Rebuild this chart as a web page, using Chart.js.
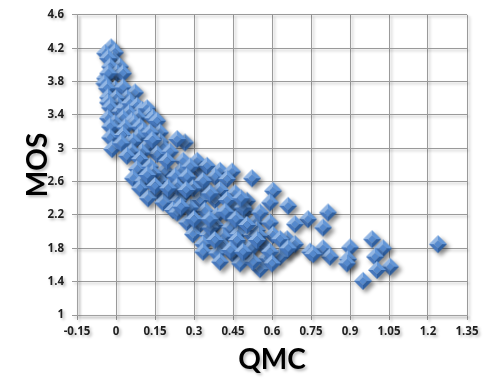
<!DOCTYPE html>
<html>
<head>
    <title>MOS vs QMC</title>
    <script src="https://cdn.jsdelivr.net/npm/chart.js"></script>
    <style>
        body { margin: 0; background: #fff; }
    </style>
</head>
<body>
    <canvas id="mosChart" width="487" height="378"></canvas>

    <script>
        // QMC (x) and MOS (y) values
        var qmc = [
            -0.019, -0.042, -0.004, -0.012, -0.031, 0.015, -0.023, 0.004, 0.027, -0.042,
            -0.030, -0.045, -0.004, -0.035, 0.027, 0.073, -0.031, 0.042, 0.000, 0.008,
            -0.031, -0.023, 0.015, 0.035, 0.054, 0.081, 0.100, 0.119, 0.131, 0.050,
            -0.031, 0.027, 0.085, 0.142, 0.158, 0.062, -0.005, 0.070, -0.004, -0.023,
            0.035, 0.092, 0.104, 0.169, -0.023, 0.027, 0.085, 0.131, 0.169, 0.265,
            0.235, -0.015, 0.046, 0.065, 0.119, 0.181, 0.020, 0.140, 0.158, 0.208,
            0.100, 0.060,
            0.042, 0.092, 0.258, 0.081, 0.131, 0.188, 0.246, 0.065, 0.104, 0.169,
            0.219, 0.273, 0.092, 0.158, 0.208, 0.258, 0.123, 0.181, 0.238, 0.219,
            0.196, 0.323, 0.142, 0.312, 0.350, 0.285, 0.400, 0.446, 0.523, 0.227,
            0.285, 0.335, 0.381, 0.427, 0.400, 0.458, 0.504, 0.323, 0.381, 0.446,
            0.496, 0.235, 0.292, 0.342, 0.388, 0.438, 0.273, 0.323, 0.381, 0.438,
            0.488, 0.535, 0.296, 0.354, 0.412, 0.469, 0.523, 0.335, 0.408, 0.477,
            0.527, 0.273, 0.335, 0.604, 0.592, 0.662, 0.235, 0.296, 0.362, 0.427,
            0.488, 0.554, 0.592, 0.285, 0.542, 0.604, 0.658, 0.362, 0.465, 0.565,
            0.658, 0.335, 0.388, 0.450, 0.504, 0.581, 0.631, 0.400, 0.477, 0.554,
            0.120, 0.150, 0.200, 0.270, 0.250, 0.300, 0.360, 0.420, 0.460, 0.380,
            0.440, 0.520, 0.550, 0.480,
            0.815, 0.738, 0.796, 0.504, 0.542, 0.631, 0.688, 0.746, 0.796, 0.823,
            0.900, 0.592, 0.600, 0.527, 0.488, 0.985, 1.027, 0.892, 0.996, 1.054,
            1.004, 0.950, 1.238, 0.758, 0.662, 0.888, 0.688
        ];
        var mos = [
            4.21, 4.14, 4.15, 4.06, 4.08, 3.98, 3.98, 3.90, 3.90, 3.84,
            3.90, 3.78, 3.71, 3.72, 3.73, 3.67, 3.61, 3.60, 3.60, 3.51,
            3.55, 3.49, 3.44, 3.48, 3.54, 3.51, 3.46, 3.48, 3.40, 3.42,
            3.36, 3.36, 3.37, 3.36, 3.33, 3.33, 3.30, 3.30, 3.22, 3.26,
            3.25, 3.26, 3.20, 3.19, 3.13, 3.16, 3.13, 3.19, 3.08, 3.07,
            3.11, 2.99, 3.05, 3.08, 3.02, 3.01, 3.06, 3.10, 2.93, 2.96,
            2.95, 2.96,
            2.91, 2.87, 2.85, 2.75, 2.78, 2.73, 2.72, 2.64, 2.61, 2.61,
            2.58, 2.61, 2.52, 2.49, 2.46, 2.44, 2.40, 2.35, 2.37, 2.26,
            2.85, 2.73, 2.70, 2.85, 2.79, 2.78, 2.73, 2.72, 2.64, 2.66,
            2.61, 2.54, 2.66, 2.63, 2.50, 2.46, 2.37, 2.38, 2.38, 2.29,
            2.25, 2.23, 2.26, 2.25, 2.19, 2.19, 2.11, 2.09, 2.08, 2.05,
            2.11, 2.11, 1.97, 1.96, 1.94, 1.97, 1.96, 1.85, 1.84, 1.84,
            1.85, 2.66, 2.61, 2.49, 2.35, 2.31, 2.54, 2.52, 2.46, 2.38,
            2.29, 2.23, 2.11, 2.29, 2.02, 1.96, 1.91, 2.05, 1.90, 1.84,
            1.78, 1.76, 1.74, 1.73, 1.74, 1.68, 1.70, 1.64, 1.62, 1.55,
            2.68, 2.55, 2.52, 2.50, 2.30, 2.15, 2.15, 2.24, 2.15, 1.90,
            1.78, 1.80, 1.95, 2.40,
            2.23, 2.15, 2.05, 2.08, 1.90, 1.91, 1.85, 1.76, 1.80, 1.70,
            1.81, 1.76, 1.62, 1.64, 1.76, 1.91, 1.80, 1.67, 1.70, 1.58,
            1.54, 1.41, 1.85, 1.73, 1.80, 1.62, 2.09
        ];
        var xTicks = [-0.15, 0, 0.15, 0.3, 0.45, 0.6, 0.75, 0.9, 1.05, 1.2, 1.35];
        var yTicks = [1, 1.4, 1.8, 2.2, 2.6, 3, 3.4, 3.8, 4.2, 4.6];

        // bevelled diamond marker
        function makeDiamond() {
            var c = document.createElement('canvas');
            c.width = 20; c.height = 20;
            var g = c.getContext('2d');
            var T = [10, 1], R = [19, 10], B = [10, 19], L = [1, 10];
            var t = [10, 6], r = [14, 10], b = [10, 14], l = [6, 10];
            function face(pts, col) {
                g.beginPath();
                g.moveTo(pts[0][0], pts[0][1]);
                for (var i = 1; i < pts.length; i++) g.lineTo(pts[i][0], pts[i][1]);
                g.closePath();
                g.fillStyle = col;
                g.fill();
            }
            face([L, T, t, l], '#92b6e4');
            face([T, R, r, t], '#6296d8');
            face([R, B, b, r], '#2f5f9f');
            face([B, L, l, b], '#4778bd');
            face([t, r, b, l], '#5589cd');
            return c;
        }

        var shadowPlugin = {
            id: 'softShadow',
            beforeDraw: function(chart) {
                var ctx = chart.ctx;
                ctx.save();
                ctx.shadowColor = 'rgba(0,0,0,0.28)';
                ctx.shadowBlur = 3;
                ctx.shadowOffsetX = 2;
                ctx.shadowOffsetY = 2;
            },
            beforeDatasetsDraw: function(chart) {
                var ctx = chart.ctx;
                ctx.shadowColor = 'rgba(0,0,0,0.45)';
                ctx.shadowBlur = 4;
                ctx.shadowOffsetX = 3;
                ctx.shadowOffsetY = 3;
            },
            afterDatasetsDraw: function(chart) {
                var ctx = chart.ctx;
                ctx.shadowColor = 'rgba(0,0,0,0.3)';
                ctx.shadowBlur = 3;
                ctx.shadowOffsetX = 2;
                ctx.shadowOffsetY = 2;
            },
            afterDraw: function(chart) {
                chart.ctx.restore();
            }
        };

        var points = qmc.map(function(x, i) { return { x: x, y: mos[i] }; });

        var tickFont = { family: 'Open Sans', weight: 'bold', size: 11.5 };
        var titleFont = { family: 'Lato', weight: 'bold', size: 28 };

        var mosChart = new Chart(document.getElementById('mosChart'), {
            type: 'scatter',
            data: {
                datasets: [{
                    data: points,
                    pointStyle: makeDiamond(),
                    pointRadius: 9,
                    backgroundColor: '#4f81bd',
                    borderColor: '#4f81bd'
                }]
            },
            plugins: [shadowPlugin],
            options: {
                responsive: false,
                animation: false,
                layout: { padding: { top: 7, right: 20, left: 0, bottom: 0 } },
                plugins: {
                    legend: { display: false },
                    tooltip: { enabled: false }
                },
                scales: {
                    x: {
                        type: 'linear',
                        min: xTicks[0],
                        max: xTicks[xTicks.length - 1],
                        afterBuildTicks: function(scale) {
                            scale.ticks = xTicks.map(function(v) { return { value: v }; });
                        },
                        afterFit: function(scale) { scale.height = 63; },
                        ticks: {
                            color: '#1f1f1f',
                            font: tickFont,
                            padding: 5,
                            maxRotation: 0,
                            callback: function(v) { return String(+v.toFixed(2)); }
                        },
                        grid: {
                            color: '#9a9a9a',
                            borderDash: [3, 2],
                            tickLength: 5,
                            tickColor: '#999999'
                        },
                        border: { color: '#a0a0a0', width: 1 },
                        title: {
                            display: true,
                            text: 'QMC',
                            color: '#000',
                            font: titleFont,
                            padding: { top: 0, bottom: 1 }
                        }
                    },
                    y: {
                        type: 'linear',
                        min: yTicks[0],
                        max: yTicks[yTicks.length - 1],
                        afterBuildTicks: function(scale) {
                            scale.ticks = yTicks.map(function(v) { return { value: v }; });
                        },
                        afterFit: function(scale) { scale.width = 77; },
                        ticks: {
                            color: '#1f1f1f',
                            font: tickFont,
                            padding: 8,
                            callback: function(v) { return String(+v.toFixed(1)); }
                        },
                        grid: {
                            color: '#9a9a9a',
                            borderDash: [3, 2],
                            tickLength: 5,
                            tickColor: '#999999'
                        },
                        border: { color: '#a0a0a0', width: 1 },
                        title: {
                            display: true,
                            text: 'MOS',
                            color: '#000',
                            font: titleFont,
                            padding: { top: 21, bottom: 0 }
                        }
                    }
                }
            }
        });
    </script>
</body>
</html>
